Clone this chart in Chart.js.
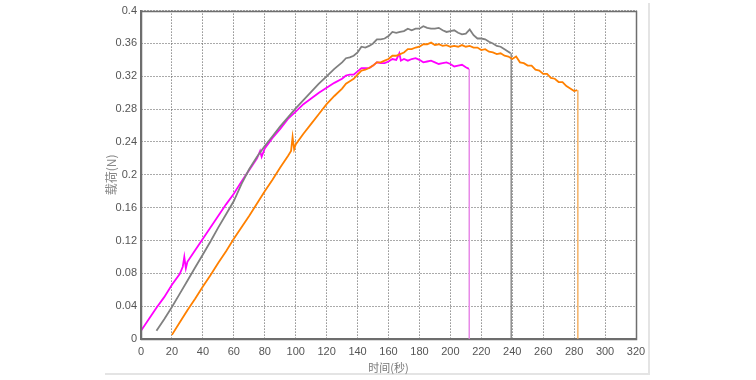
<!DOCTYPE html>
<html>
<head>
<meta charset="utf-8">
<script src="https://cdn.jsdelivr.net/npm/chart.js@4.4.1/dist/chart.umd.min.js"></script>
<style>
html,body{margin:0;padding:0;background:#fff;}
#wrap{width:756px;height:380px;position:relative;}
</style>
</head>
<body>
<div id="wrap"><canvas id="c" width="756" height="380"></canvas></div>
<script>
// ---- data ----
const xTickLabels = ['0','20','40','60','80','100','120','140','160','180','200','220','240','260','280','300','320'];
const yTickLabels = ['0','0.04','0.08','0.12','0.16','0.2','0.24','0.28','0.32','0.36','0.4'];
const xTitle = '时间(秒)';
const yTitle = '载荷(N)';

const magentaT = [0,5,10,15,20,25,27,28,29,30,35,40,45,50,55,60,65,70,75,77,78,80,85,90,95,100,105,110,115,120,125,
  130,132.5,135,137.5,140,142.5,145,147.5,150,152.5,155,157.5,160,162.5,165,167,168,170,172.5,175,177.5,180,182.5,185,187.5,190,192.5,195,197.5,200,202.5,205,207.5,210,212];
const magentaV = [0.010,0.024,0.038,0.051,0.066,0.079,0.088,0.100,0.086,0.094,0.108,0.122,0.136,0.150,0.164,0.177,0.192,0.206,0.220,0.229,0.222,0.232,0.245,0.256,0.268,0.277,0.286,0.293,0.300,0.306,0.312,
  0.317,0.321,0.322,0.322,0.326,0.330,0.330,0.330,0.333,0.337,0.336,0.336,0.338,0.341,0.340,0.348,0.339,0.341,0.339,0.341,0.342,0.340,0.337,0.338,0.339,0.337,0.335,0.336,0.337,0.335,0.332,0.333,0.334,0.331,0.329];

const grayT = [10,15,20,25,30,35,40,45,50,55,60,65,70,75,80,85,90,95,100,105,110,115,120,125,
  130,132.5,135,137.5,140,142.5,145,147.5,150,152.5,155,157.5,160,162.5,165,167.5,170,172.5,175,177.5,180,182.5,185,187.5,190,192.5,195,197.5,200,202.5,205,207.5,210,212.5,215,217.5,220,222.5,225,227.5,230,232.5,235,237.5,239];
const grayV = [0.010,0.024,0.039,0.055,0.071,0.087,0.103,0.119,0.136,0.152,0.168,0.189,0.207,0.222,0.235,0.247,0.259,0.270,0.281,0.291,0.301,0.311,0.320,0.329,
  0.337,0.342,0.343,0.345,0.349,0.356,0.355,0.357,0.360,0.365,0.365,0.366,0.369,0.374,0.373,0.374,0.375,0.378,0.376,0.378,0.378,0.381,0.379,0.378,0.378,0.379,0.376,0.374,0.375,0.376,0.373,0.371,0.372,0.377,0.370,0.366,0.366,0.365,0.362,0.360,0.357,0.356,0.353,0.350,0.348];

const orangeT = [20,25,30,35,40,45,50,55,60,65,70,75,80,85,90,95,97,98,99,100,105,110,115,120,125,
  130,132.5,135,137.5,140,142.5,145,147.5,150,152.5,155,157.5,160,162.5,165,167.5,170,172.5,175,177.5,180,182.5,185,187.5,190,192.5,195,197.5,200,202.5,205,207.5,210,212.5,215,217.5,220,222.5,225,227.5,230,232.5,235,237.5,240,242.5,245,247.5,250,252.5,255,257.5,260,262.5,265,267.5,270,272.5,275,277.5,280,282];
const orangeV = [0.005,0.020,0.035,0.049,0.064,0.078,0.093,0.107,0.122,0.136,0.150,0.165,0.180,0.194,0.209,0.223,0.229,0.246,0.231,0.237,0.250,0.262,0.274,0.286,0.296,
  0.305,0.311,0.314,0.317,0.322,0.327,0.328,0.330,0.333,0.337,0.337,0.339,0.341,0.345,0.345,0.347,0.349,0.353,0.353,0.355,0.356,0.359,0.359,0.361,0.358,0.359,0.357,0.358,0.356,0.357,0.356,0.358,0.356,0.357,0.355,0.355,0.352,0.353,0.350,0.349,0.347,0.348,0.345,0.344,0.341,0.344,0.337,0.336,0.333,0.333,0.328,0.327,0.323,0.323,0.318,0.317,0.313,0.313,0.308,0.305,0.302,0.303];

// times where each specimen broke (vertical drop to zero)
const breakT = [212.2, 239.3, 282.4];
const breakV = [0.329, 0.348, 0.303];

const colors = {magenta:'#ff00ff', gray:'#808080', orange:'#ff8000',
  magentaDrop:'#e88ae8', grayDrop:'#707070', orangeDrop:'#f5b266'};

function pts(t, v){ return t.map((x,i)=>({x:x, y:v[i]})); }
function drop(i){ return [{x:breakT[i], y:breakV[i]}, {x:breakT[i], y:0}]; }

const panelPlugin = {
  id:'panel',
  beforeDraw(chart){
    const ctx = chart.ctx;
    ctx.save();
    ctx.fillStyle = '#fff';
    ctx.fillRect(0,0,chart.width,chart.height);
    ctx.strokeStyle = '#e4e4e4';
    ctx.lineWidth = 2;
    ctx.beginPath();
    ctx.moveTo(105, 374); ctx.lineTo(649, 374); ctx.lineTo(649, 3);
    ctx.stroke();
    ctx.restore();
  },
  afterDatasetsDraw(chart){
    const a = chart.chartArea, ctx = chart.ctx;
    ctx.save();
    ctx.strokeStyle = '#6e6e6e';
    ctx.lineWidth = 1.5;
    ctx.strokeRect(Math.round(a.left)+0.5, Math.round(a.top)+0.5, Math.round(a.right-a.left), Math.round(a.bottom-a.top));
    ctx.restore();
  }
};

const lineDs = (label, data, color, w) => ({label, data, borderColor:color, borderWidth:w, pointRadius:0, tension:0, fill:false});

new Chart(document.getElementById('c'), {
  type:'line',
  data:{
    datasets:[
      lineDs('orange', pts(orangeT, orangeV), colors.orange, 1.8),
      lineDs('gray', pts(grayT, grayV), colors.gray, 1.8),
      lineDs('magenta', pts(magentaT, magentaV), colors.magenta, 1.8),
      lineDs('magentaDrop', drop(0), colors.magentaDrop, 1.5),
      lineDs('grayDrop', drop(1), colors.grayDrop, 1.2),
      lineDs('orangeDrop', drop(2), colors.orangeDrop, 1.5)
    ]
  },
  options:{
    responsive:false,
    animation:false,
    events:[],
    layout:{padding:{left:100, right:120, top:9, bottom:4}},
    plugins:{legend:{display:false}, tooltip:{enabled:false}},
    scales:{
      x:{
        type:'linear', min:0, max:320,
        afterBuildTicks(s){ s.ticks = xTickLabels.map(l=>({value:Number(l)})); },
        afterFit(s){ s.height = 37; },
        ticks:{color:'#555', font:{family:'Liberation Sans', size:11}, padding:6, maxRotation:0,
          callback:(v,i)=>xTickLabels[i]},
        grid:{color:'#555', drawTicks:false, lineWidth:1},
        border:{display:true, color:'#6e6e6e', width:1.5, dash:[1,2]},
        title:{display:true, text:xTitle, color:'#777', font:{family:'Noto Sans CJK SC', size:11}, padding:{top:0,bottom:2}}
      },
      y:{
        type:'linear', min:0, max:0.4,
        afterBuildTicks(s){ s.ticks = yTickLabels.map(l=>({value:Number(l)})); },
        afterFit(s){ s.width = 41; },
        ticks:{color:'#555', font:{family:'Liberation Sans', size:11}, padding:4,
          callback:(v,i)=>yTickLabels[i]},
        grid:{color:'#555', drawTicks:false, lineWidth:1},
        border:{display:true, color:'#6e6e6e', width:1.5, dash:[1,2]},
        title:{display:true, text:yTitle, color:'#888', font:{family:'Noto Sans CJK SC', size:12}, padding:{top:4,bottom:0}}
      }
    }
  },
  plugins:[panelPlugin]
});
</script>
</body>
</html>
